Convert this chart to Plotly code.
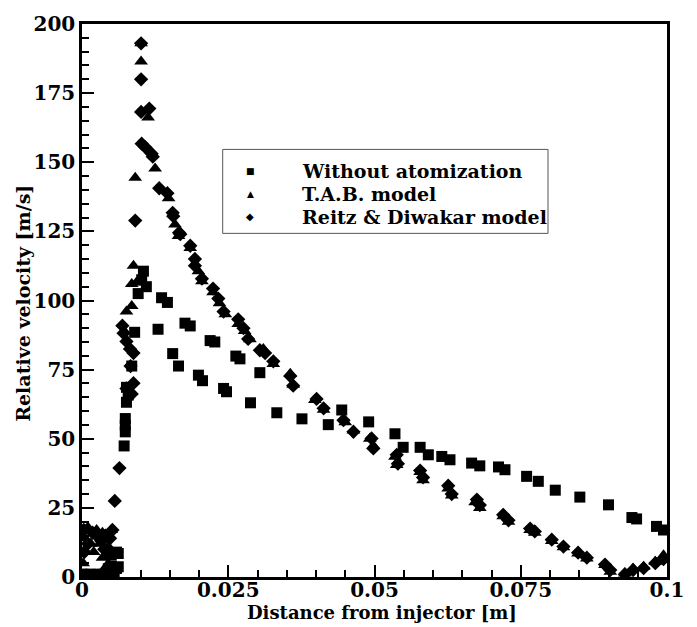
import plotly.graph_objects as go

# ---- data ----
sq_x = [0.0, 0.0005, 0.001, 0.0015, 0.002, 0.0025, 0.003, 0.0035, 0.004, 0.0045, 0.005,
        0.0045, 0.005, 0.0055,
        0.0059, 0.0059, 0.0062, 0.0062, 0.0072, 0.0074, 0.0074, 0.0074, 0.0076, 0.0079,
        0.0076, 0.0085, 0.009, 0.0096, 0.0102, 0.0105, 0.011, 0.0136, 0.0146, 0.0176,
        0.0185, 0.0219, 0.0227, 0.0263, 0.027, 0.0304, 0.013, 0.0155, 0.0165, 0.0199,
        0.0206, 0.0242, 0.0247, 0.0288, 0.0333, 0.0376, 0.0421, 0.0444, 0.049, 0.0535,
        0.0549, 0.0578, 0.0592, 0.0615, 0.0629, 0.0666, 0.068, 0.0712, 0.0723, 0.076,
        0.078, 0.0809, 0.0851, 0.09, 0.094, 0.0948, 0.0982, 0.0994]
sq_y = [1.0, 1.0, 0.5, 1.0, 0.7, 1.0, 0.5, 1.0, 0.8, 0.5, 4.0,
        3.0, 8.0, 1.0,
        3.1, 9.0, 3.7, 8.5, 47.4, 52.5, 54.9, 57.3, 63.2, 65.8,
        68.6, 76.3, 88.5, 102.5, 107.5, 110.6, 105.0, 101.0, 99.3, 91.8,
        90.8, 85.5, 85.0, 79.9, 78.9, 73.9, 89.6, 80.8, 76.3, 73.0,
        71.0, 68.2, 67.0, 63.0, 59.4, 57.2, 55.1, 60.4, 56.1, 51.8,
        46.9, 46.9, 44.2, 43.6, 42.4, 41.2, 40.2, 39.8, 38.8, 36.4,
        34.6, 31.4, 28.9, 26.1, 21.5, 21.0, 18.3, 17.0]

tab_x = [0.0005, 0.001, 0.0015, 0.002, 0.0025, 0.003, 0.0035, 0.004, 0.0045, 0.005,
         0.0002, 0.0002, 0.0035, 0.0042,
         0.0072, 0.0076, 0.0085, 0.0085, 0.0093, 0.0088, 0.0091, 0.0101, 0.0101, 0.0113,
         0.0125, 0.0148, 0.0159, 0.0165, 0.0185, 0.0199, 0.0205, 0.0224, 0.0235, 0.0245,
         0.0267, 0.0278, 0.0287, 0.031, 0.0327, 0.0356, 0.0361, 0.0398, 0.0413, 0.045,
         0.0464, 0.0492, 0.0498, 0.0535, 0.0538, 0.0578, 0.0583, 0.0626, 0.0632, 0.0672,
         0.068, 0.072, 0.0729, 0.0766, 0.0774, 0.0803, 0.0823, 0.0848, 0.0863, 0.0894,
         0.0903, 0.0928, 0.0942, 0.096, 0.098, 0.0994]
tab_y = [14, 18, 12, 9, 17, 12, 16, 14, 11, 17,
         5, 9, 7, 4,
         89, 96, 98, 106, 106.5, 112.6, 144.4, 186.4, 193, 166.2,
         147.7, 137, 127.5, 123.3, 119, 110.6, 107, 103, 99, 95,
         91.5, 89, 86, 82.5, 77, 73.5, 69.5, 64, 60.5, 56,
         53, 50, 47.5, 43.5, 40.5, 38, 35, 32, 29.5, 27,
         25, 22, 20, 17, 16, 13, 10.8, 8.5, 6.7, 4.3,
         1.9, 1.3, 3.1, 3.7, 5.5, 7.9]

rd_x = [0.0003, 0.001, 0.0018, 0.0025, 0.0033, 0.004, 0.0048, 0.0052,
        0.0004, 0.0038, 0.0046,
        0.0056, 0.0064, 0.0076, 0.0085, 0.0088, 0.0083, 0.0088, 0.0082, 0.0076, 0.0071,
        0.0069, 0.0091, 0.0102, 0.0108, 0.0101, 0.0115, 0.0101, 0.0101, 0.0119, 0.0121,
        0.0132, 0.0146, 0.0155, 0.0156, 0.0166, 0.0168, 0.0185, 0.0193, 0.0193, 0.0205,
        0.0224, 0.0233, 0.0242, 0.0267, 0.0276, 0.0284, 0.0304, 0.0313, 0.0327, 0.0356,
        0.0361, 0.0401, 0.0413, 0.0447, 0.0464, 0.0495, 0.0498, 0.0538, 0.054, 0.0578,
        0.0583, 0.0626, 0.0632, 0.0675, 0.068, 0.072, 0.0729, 0.0766, 0.0774, 0.0803,
        0.0823, 0.0848, 0.0863, 0.0894, 0.0903, 0.0928, 0.0942, 0.096, 0.098, 0.0994]
rd_y = [17, 12, 16, 15, 13, 15, 14, 17,
        9, 10, 8,
        27.5, 39.4, 68.2, 66.2, 70.1, 76.3, 81, 82.5, 85.2, 88.2,
        90.9, 128.9, 156.7, 155.5, 168.2, 169.4, 180, 193, 153.1, 152,
        140.6, 138.8, 131.7, 130.5, 124.5, 124, 119.8, 115, 112.6, 107.9,
        104.3, 100.7, 96, 93.2, 90, 86.1, 82, 81, 78, 72.7,
        69.2, 64.4, 61, 56.7, 52.5, 50.1, 46.5, 44.2, 41, 38.5,
        36, 33, 30, 28, 26, 22.5, 20.5, 17.5, 16.5, 13.5,
        11, 8.8, 7, 4.5, 2.5, 1, 2.5, 3.2, 5, 6.5]

names = ["Without atomization", "T.A.B. model", "Reitz & Diwakar model"]
legend_symbols = ["\u25A0", "\u25B2", "\u25C6"]
x_tickvals = [0, 0.025, 0.05, 0.075, 0.1]
x_ticktext = ["0", "0.025", "0.05", "0.075", "0.1"]
y_tickvals = [0, 25, 50, 75, 100, 125, 150, 175, 200]
y_ticktext = ["0", "25", "50", "75", "100", "125", "150", "175", "200"]

FONT = "DejaVu Serif"

fig = go.Figure()
series = [(sq_x, sq_y, "square", 11), (tab_x, tab_y, "triangle-up", 12), (rd_x, rd_y, "diamond", 11)]
for (xs, ys, sym, sz), nm in zip(series, names):
    fig.add_trace(go.Scatter(x=xs, y=ys, mode="markers", name=nm, showlegend=False,
                             marker=dict(symbol=sym, size=sz, color="black",
                                         line=dict(width=0))))

tickfont = dict(family=FONT, size=20, color="black")
axis_common = dict(showline=True, linecolor="black", linewidth=2.5, mirror=True,
                   ticks="inside", ticklen=12, tickwidth=2, tickcolor="black",
                   showgrid=False, zeroline=False, tickfont=tickfont)
fig.update_xaxes(range=[0, 0.1], tickvals=x_tickvals,
                 ticktext=["<b>%s</b>" % t for t in x_ticktext],
                 ticklabelstandoff=-7,
                 minor=dict(dtick=0.005, ticks="inside", ticklen=7, tickwidth=1.5,
                            tickcolor="black", showgrid=False),
                 **axis_common)
fig.update_yaxes(range=[0, 200], tickvals=y_tickvals,
                 ticktext=["<b>%s</b>" % t for t in y_ticktext],
                 minor=dict(dtick=5, ticks="inside", ticklen=7, tickwidth=1.5,
                            tickcolor="black", showgrid=False),
                 **axis_common)

fig.add_annotation(text="<b>Distance from injector [m]</b>", xref="paper", yref="paper",
                   x=0.512, y=-0.065, xanchor="center", yanchor="middle", showarrow=False,
                   font=dict(family=FONT, size=18, color="black"))
fig.add_annotation(text="<b>Relative velocity [m/s]</b>", xref="paper", yref="paper",
                   x=-0.1, y=0.495, xanchor="center", yanchor="middle", showarrow=False,
                   textangle=-90,
                   font=dict(family=FONT, size=19, color="black"))

# legend box drawn by hand to match the original's tight rows
fig.add_shape(type="rect", xref="paper", yref="paper",
              x0=0.2405, x1=0.7966, y0=0.6214, y1=0.7732,
              line=dict(color="#555555", width=1), fillcolor="white", layer="above")
row_y = [0.7339, 0.6929, 0.6518]
sym_sizes = [9, 9, 10]
for nm, s, yy, ss in zip(names, legend_symbols, row_y, sym_sizes):
    fig.add_annotation(text=s, xref="paper", yref="paper", x=0.2875, y=yy,
                       xanchor="center", yanchor="middle", showarrow=False,
                       font=dict(family="DejaVu Sans", size=ss, color="black"))
    fig.add_annotation(text="<b>%s</b>" % nm, xref="paper", yref="paper", x=0.3726, y=yy,
                       xanchor="left", yanchor="middle", showarrow=False,
                       font=dict(family=FONT, size=19, color="black"))

fig.update_layout(
    width=697, height=627,
    margin=dict(l=82, r=30, t=17, b=50),
    paper_bgcolor="white", plot_bgcolor="white",
    showlegend=False,
)
fig.write_html("out.html")
